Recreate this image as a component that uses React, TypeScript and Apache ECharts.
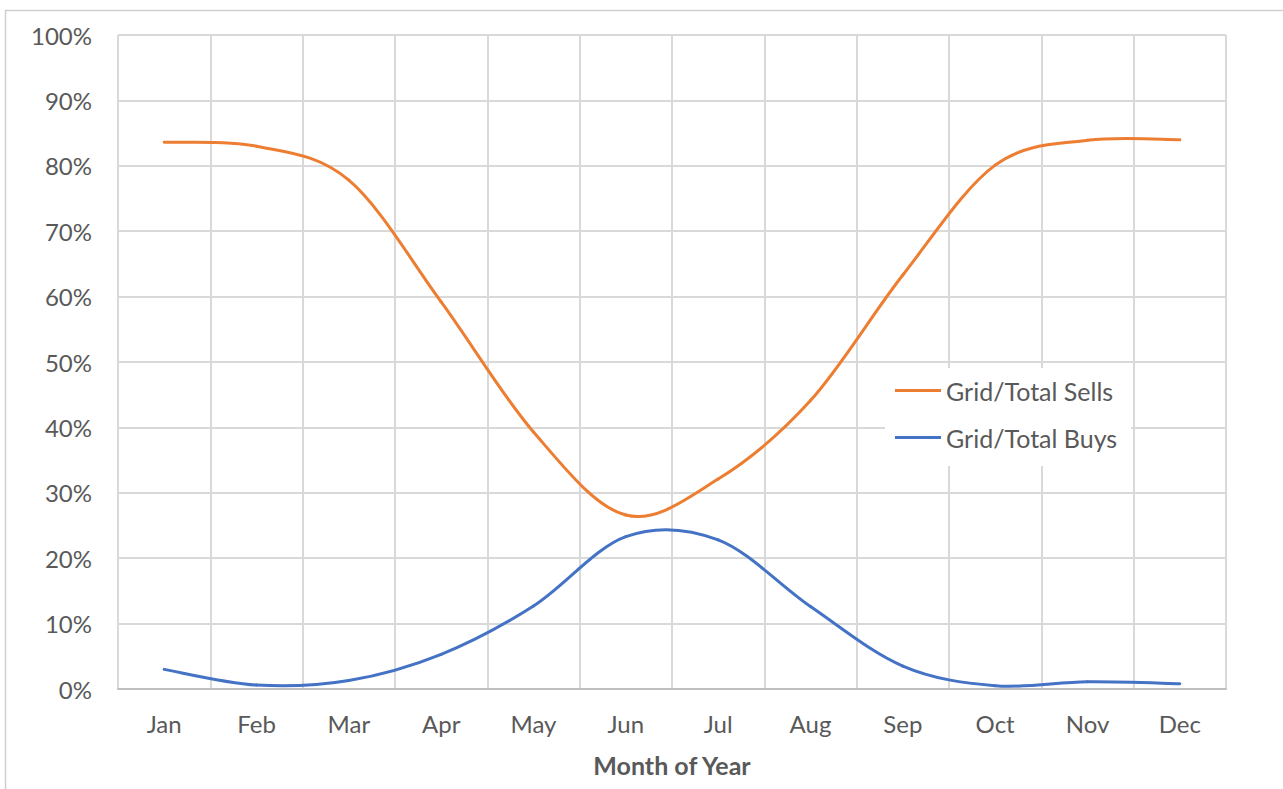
import React, { useEffect, useRef } from "react";
import * as echarts from "echarts";

// Monthly share of grid trades (percent)
const months = ["Jan", "Feb", "Mar", "Apr", "May", "Jun", "Jul", "Aug", "Sep", "Oct", "Nov", "Dec"];
const gridTotalSells = [83.6, 83.0, 77.8, 59.2, 39.3, 26.6, 32.1, 44.1, 63.3, 80.1, 83.9, 84.0];
const gridTotalBuys = [3.0, 0.6, 1.3, 5.3, 12.7, 23.3, 22.8, 12.6, 3.5, 0.5, 1.1, 0.8];
const seriesNames = ["Grid/Total Sells", "Grid/Total Buys"];
const seriesColors = ["#ED7D31", "#4472C4"];
const xAxisTitle = "Month of Year";

const FONT = "Lato, 'Open Sans', sans-serif";
const TEXT = "#595959";
const GRID = "#d9d9d9";

// Smoothed line drawn as Catmull-Rom bezier segments between consecutive points,
// each point placed through the chart's own coordinate system.
function smoothLine(name: string, values: number[], color: string) {
  const n = values.length;
  return {
    name,
    type: "custom",
    data: values.map((v, i) => [i, v]),
    encode: { x: 0, y: 1 },
    itemStyle: { color },
    z: 3,
    renderItem: (params: any, api: any) => {
      const i = params.dataIndex;
      if (i >= n - 1) return { type: "group", children: [] };
      const pt = (k: number) => {
        const kk = Math.max(0, Math.min(n - 1, k));
        return api.coord([kk, values[kk]]);
      };
      const p0 = pt(i - 1);
      const p1 = pt(i);
      const p2 = pt(i + 1);
      const p3 = pt(i + 2);
      return {
        type: "bezierCurve",
        shape: {
          x1: p1[0],
          y1: p1[1],
          x2: p2[0],
          y2: p2[1],
          cpx1: p1[0] + (p2[0] - p0[0]) / 6,
          cpy1: p1[1] + (p2[1] - p0[1]) / 6,
          cpx2: p2[0] - (p3[0] - p1[0]) / 6,
          cpy2: p2[1] - (p3[1] - p1[1]) / 6,
        },
        style: { stroke: color, lineWidth: 3, fill: null, lineCap: "round" },
      };
    },
  };
}

export default function App() {
  const ref = useRef<HTMLDivElement>(null);

  useEffect(() => {
    if (!ref.current) return;
    const chart = echarts.init(ref.current, undefined, { renderer: "svg" });
    chart.setOption({
      animation: false,
      backgroundColor: "#ffffff",
      textStyle: { fontFamily: FONT },
      graphic: [
        {
          type: "rect",
          shape: { x: 5.5, y: 10.5, width: 1300, height: 800 },
          style: { fill: "none", stroke: "#cfcfcf", lineWidth: 1.5 },
          silent: true,
        },
      ],
      grid: { left: 118, right: 57, top: 35, bottom: 100 },
      legend: {
        orient: "vertical",
        left: 885,
        top: 368,
        padding: [10, 14, 16, 10],
        backgroundColor: "#ffffff",
        itemWidth: 46,
        itemHeight: 3,
        itemGap: 22,
        icon: "rect",
        textStyle: { color: TEXT, fontSize: 25, fontFamily: FONT },
        data: seriesNames,
      },
      xAxis: {
        type: "category",
        data: months,
        boundaryGap: true,
        axisLine: { show: true, lineStyle: { color: "#bfbfbf", width: 2 } },
        axisTick: { show: false },
        axisLabel: { color: TEXT, fontSize: 24, margin: 22, fontFamily: FONT },
        splitLine: { show: true, lineStyle: { color: GRID, width: 2 } },
        name: xAxisTitle,
        nameLocation: "middle",
        nameGap: 63,
        nameTextStyle: { color: TEXT, fontSize: 25, fontWeight: "bold", fontFamily: FONT },
      },
      yAxis: {
        type: "value",
        min: 0,
        max: 100,
        interval: 10,
        axisLine: { show: false },
        axisTick: { show: false },
        axisLabel: { color: TEXT, fontSize: 24, margin: 26, formatter: "{value}%", fontFamily: FONT },
        splitLine: { show: true, lineStyle: { color: GRID, width: 2 } },
      },
      series: [
        smoothLine(seriesNames[0], gridTotalSells, seriesColors[0]),
        smoothLine(seriesNames[1], gridTotalBuys, seriesColors[1]),
      ],
    });
    return () => chart.dispose();
  }, []);

  return (
    <div
      ref={ref}
      style={{ position: "fixed", left: 0, top: 0, width: 1283, height: 789 }}
    />
  );
}
